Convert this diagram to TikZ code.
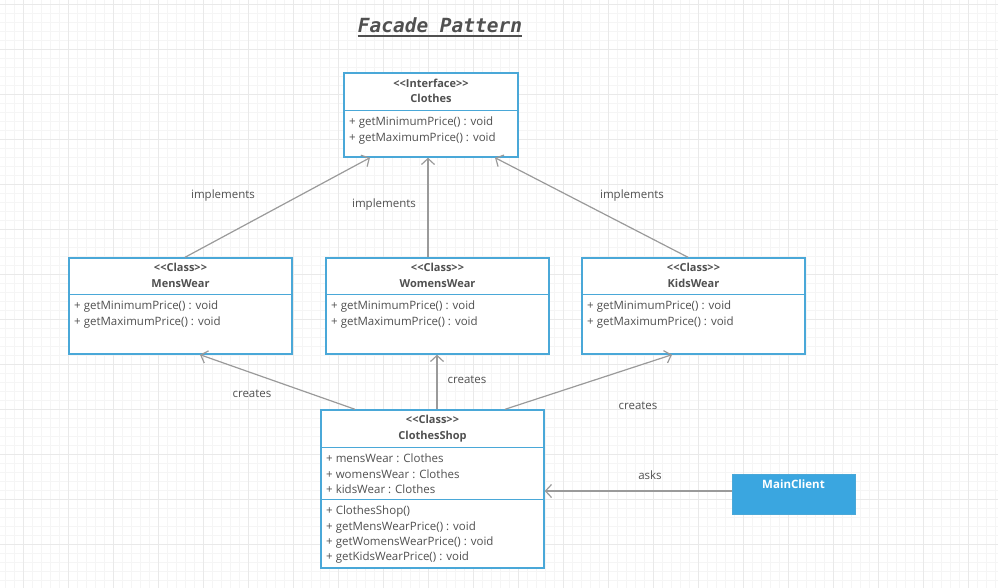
\documentclass[tikz,border=0pt]{standalone}
\usepackage{fontspec}
\newfontfamily\umlfont{Open Sans}
\newfontfamily\titlefont{DejaVu Sans Mono}
\usetikzlibrary{arrows.meta}

\definecolor{umlblue}{HTML}{4AA8D8}
\definecolor{clientblue}{HTML}{3AA6E0}
\definecolor{umltext}{HTML}{505050}
\definecolor{linkgray}{HTML}{9A9A9A}
\definecolor{gridminor}{HTML}{F5F5F5}
\definecolor{gridmajor}{HTML}{E9E9E9}

\begin{document}
\begin{tikzpicture}[x=1pt, y=-1pt,
    % Box styles
    classbox/.style={draw=umlblue, line width=1.4pt, fill=white, minimum width=223pt, minimum height=96pt, inner sep=0pt},
    client/.style={draw=umlblue, fill=clientblue, minimum width=123pt, minimum height=40pt, inner sep=0pt},
    divider/.style={draw=umlblue, line width=1.4pt},
    % Text styles
    header/.style={font=\umlfont\bfseries\fontsize{11}{15.5}\selectfont, text=umltext, align=center, inner sep=0pt},
    members/.style={font=\umlfont\fontsize{11.5}{15.2}\selectfont, text=umltext, align=left, anchor=north west, inner sep=0pt},
    linklabel/.style={font=\umlfont\fontsize{11.5}{14}\selectfont, text=umltext, inner sep=1pt},
    clientname/.style={font=\umlfont\bfseries\fontsize{11.5}{14}\selectfont, text=white, inner sep=0pt},
    title/.style={font=\titlefont\bfseries\itshape\fontsize{19.5}{22}\selectfont, text=umltext, inner sep=0pt},
    % Arrow styles
    link/.style={draw=linkgray, line width=1.2pt, -{Straight Barb[length=6pt,width=13pt]}}
]
\useasboundingbox (0,0) rectangle (998,588);

% Background grid
\foreach \gx in {5,14,...,995} \draw[gridminor, line width=0.5pt] (\gx,0) -- (\gx,588);
\foreach \gy in {4,13,...,586} \draw[gridminor, line width=0.5pt] (0,\gy) -- (998,\gy);
\foreach \gx in {23,68,...,995} \draw[gridmajor, line width=0.6pt] (\gx,0) -- (\gx,588);
\foreach \gy in {4,49,...,586} \draw[gridmajor, line width=0.6pt] (0,\gy) -- (998,\gy);

% Title
\node[title] (title) at (440,25) {Facade Pattern};
\draw[umltext, line width=1.6pt] ([yshift=-4pt]title.base west) -- ([yshift=-4pt]title.base east);

% Interface at top
\node[classbox, minimum width=174pt, minimum height=84pt] (clothes) at (431,115) {};
\draw[divider] ([yshift=-38pt]clothes.north west) -- ([yshift=-38pt]clothes.north east);
\node[header] (clothes-head) at (431,91) {<<Interface>>\\Clothes};
\node[members] (clothes-ops) at (349,117) {+ getMinimumPrice() : void\\+ getMaximumPrice() : void};

% Middle row - concrete classes
\node[classbox] (mens) at (180.5,306) {};
\draw[divider] ([yshift=-37pt]mens.north west) -- ([yshift=-37pt]mens.north east);
\node[header] (mens-head) at (180.5,275.5) {<<Class>>\\MensWear};
\node[members] (mens-ops) at (74,301) {+ getMinimumPrice() : void\\+ getMaximumPrice() : void};

\node[classbox] (womens) at (437.5,306) {};
\draw[divider] ([yshift=-37pt]womens.north west) -- ([yshift=-37pt]womens.north east);
\node[header] (womens-head) at (437.5,275.5) {<<Class>>\\WomensWear};
\node[members] (womens-ops) at (331,301) {+ getMinimumPrice() : void\\+ getMaximumPrice() : void};

\node[classbox] (kids) at (693.5,306) {};
\draw[divider] ([yshift=-37pt]kids.north west) -- ([yshift=-37pt]kids.north east);
\node[header] (kids-head) at (693.5,275.5) {<<Class>>\\KidsWear};
\node[members] (kids-ops) at (587,301) {+ getMinimumPrice() : void\\+ getMaximumPrice() : void};

% Facade at bottom
\node[classbox, minimum height=158pt] (shop) at (432.5,489) {};
\draw[divider] ([yshift=-38pt]shop.north west) -- ([yshift=-38pt]shop.north east);
\draw[divider] ([yshift=-90pt]shop.north west) -- ([yshift=-90pt]shop.north east);
\node[header] (shop-head) at (432.5,428.5) {<<Class>>\\ClothesShop};
\node[members] (shop-attrs) at (326,454) {+ mensWear : Clothes\\+ womensWear : Clothes\\+ kidsWear : Clothes};
\node[members] (shop-ops) at (326,506) {+ ClothesShop()\\+ getMensWearPrice() : void\\+ getWomensWearPrice() : void\\+ getKidsWearPrice() : void};

% Client
\node[client] (client) at (793.5,494) {};
\node[clientname] (client-name) at (793.5,484) {MainClient};

% Realisation arrows
\draw[link] ([xshift=4.5pt]mens.north) -- ([xshift=-61pt]clothes.south);
\draw[link] ([xshift=-9.5pt]womens.north) -- ([xshift=-3pt]clothes.south);
\draw[link] ([xshift=-5.5pt]kids.north) -- ([xshift=64pt]clothes.south);

% Creation arrows
\draw[link] ([xshift=-77.5pt]shop.north) -- ([xshift=19.5pt]mens.south);
\draw[link] ([xshift=4.5pt]shop.north) -- ([xshift=-0.5pt]womens.south);
\draw[link] ([xshift=72.5pt]shop.north) -- ([xshift=-21.5pt]kids.south);

% Client asks facade
\draw[link] ([yshift=3pt]client.west) -- ([yshift=-2pt]shop.east);

% Labels
\node[linklabel] (impl-mens) at (223,196) {implements};
\node[linklabel] (impl-womens) at (384,205) {implements};
\node[linklabel] (impl-kids) at (632,196) {implements};
\node[linklabel] (creates-mens) at (252,394) {creates};
\node[linklabel] (creates-womens) at (467,380) {creates};
\node[linklabel] (creates-kids) at (638,406) {creates};
\node[linklabel] (asks) at (650,475) {asks};

\end{tikzpicture}
\end{document}
